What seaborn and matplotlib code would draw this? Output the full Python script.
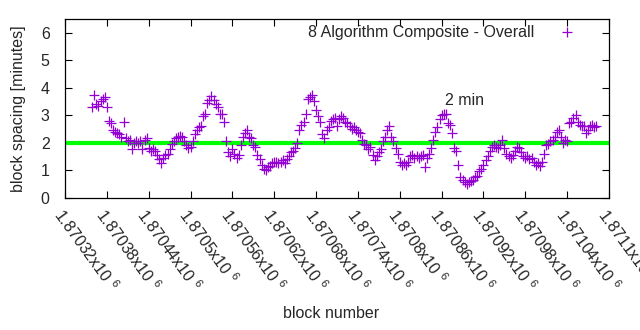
import numpy as np
import pandas as pd
import matplotlib
matplotlib.use("Agg")
import matplotlib.pyplot as plt
import matplotlib.transforms as mtransforms
import seaborn as sns

# ---- data ----
first_block = 1870359
block_step = 3
spacing_minutes = [
    3.3, 3.75, 3.4, 3.35, 3.5, 3.6, 3.65, 3.3, 2.8, 2.7,
    2.45, 2.4, 2.35, 2.3, 2.2, 2.75, 2.15, 2.05, 2.1, 1.75,
    2.0, 2.05, 2.0, 2.05, 1.75, 2.1, 2.15, 1.8, 1.7, 1.75,
    1.7, 1.55, 1.4, 1.25, 1.45, 1.55, 1.6, 1.75, 1.95, 2.05,
    2.15, 2.2, 2.25, 2.2, 2.05, 1.9, 1.8, 1.85, 2.05, 2.3,
    2.45, 2.55, 2.6, 2.95, 3.05, 3.45, 3.55, 3.7, 3.55, 3.4,
    3.3, 3.05, 3.05, 2.75, 2.05, 1.65, 1.5, 1.75, 1.6, 1.45,
    1.55, 1.9, 2.2, 2.35, 2.45, 2.2, 2.15, 1.9, 1.85, 1.55,
    1.4, 1.2, 1.05, 1.0, 1.1, 1.15, 1.25, 1.3, 1.3, 1.25,
    1.3, 1.35, 1.25, 1.4, 1.5, 1.65, 1.7, 1.8, 2.0, 2.45,
    2.65, 2.75, 3.05, 3.6, 3.65, 3.75, 3.5, 3.2, 2.95, 2.75,
    2.3, 2.15, 2.45, 2.55, 2.8, 2.85, 2.9, 2.6, 2.85, 2.95,
    2.9, 2.75, 2.7, 2.6, 2.5, 2.55, 2.45, 2.4, 2.35, 2.1,
    1.95, 1.9, 1.75, 1.85, 1.55, 1.35, 1.5, 1.65, 1.75, 2.05,
    2.2, 2.45, 2.6, 2.2, 2.05, 1.8, 1.6, 1.3, 1.2, 1.25,
    1.2, 1.3, 1.5, 1.55, 1.45, 1.5, 1.45, 1.5, 1.55, 1.1,
    1.45, 1.6, 1.8, 2.1, 2.4, 2.55, 2.85, 3.0, 3.05, 3.05,
    2.7, 2.65, 2.35, 1.8, 1.7, 1.2, 0.75, 0.65, 0.55, 0.5,
    0.55, 0.6, 0.65, 0.75, 0.8, 0.95, 1.05, 1.2, 1.35, 1.5,
    1.7, 1.85, 1.9, 1.85, 1.8, 1.9, 2.1, 1.8, 1.6, 1.5,
    1.45, 1.55, 1.7, 1.85, 1.8, 1.65, 1.5, 1.45, 1.5, 1.4,
    1.45, 1.3, 1.2, 1.25, 1.15, 1.3, 1.6, 1.9, 1.95, 2.05,
    2.1, 2.2, 2.4, 2.45, 2.2, 2.0, 2.1, 2.05, 2.7, 2.75,
    2.9, 3.0, 2.75, 2.65, 2.6, 2.6, 2.35, 2.45, 2.6, 2.65,
    2.55, 2.6,
]
blocks = first_block + block_step * np.arange(len(spacing_minutes))

x_ticks = [1870320, 1870380, 1870440, 1870500, 1870560, 1870620, 1870680,
           1870740, 1870800, 1870860, 1870920, 1870980, 1871040, 1871100]
x_tick_text = ["1.87032", "1.87038", "1.87044", "1.8705", "1.87056", "1.87062",
               "1.87068", "1.87074", "1.8708", "1.87086", "1.87092", "1.87098",
               "1.87104", "1.8711"]
y_ticks = [0, 1, 2, 3, 4, 5, 6]
target_minutes = 2
series_name = "8 Algorithm Composite - Overall"

df = pd.DataFrame({"block": blocks, "spacing": spacing_minutes})

# ---- style ----
sns.set_style("ticks")
plt.rcParams["font.family"] = ["Liberation Sans", "DejaVu Sans"]
plt.rcParams["mathtext.default"] = "regular"
FS = 11.5

fig = plt.figure(figsize=(6.4, 3.3), dpi=100)
ax = fig.add_axes([65 / 640, 1 - 197.5 / 330, (609 - 65) / 640, (197.5 - 19) / 330])

purple = "#9400d3"
sns.scatterplot(data=df, x="block", y="spacing", marker="+", s=50,
                color=purple, linewidth=0.9, ax=ax, label=series_name, zorder=3)
ax.axhline(target_minutes, color="#00ff00", lw=3.0, zorder=2)
ax.text(1870893, 3.52, "2 min", fontsize=FS, ha="center", va="center")

ax.set_xlim(1870320, 1871100)
ax.set_ylim(0, 6.5)
ax.set_yticks(y_ticks)
ax.set_xticks(x_ticks)
ax.set_xticklabels([t + r"x10 $^{6}$" for t in x_tick_text], rotation=-54,
                   ha="left", va="top", rotation_mode="anchor", fontsize=FS)
shift = mtransforms.ScaledTranslation(6 / 100, 0, fig.dpi_scale_trans)
for lbl in ax.get_xticklabels():
    lbl.set_transform(lbl.get_transform() + shift)
for lbl in ax.get_yticklabels():
    lbl.set_fontsize(FS)
ax.tick_params(axis="both", direction="in", length=5, width=0.8, color="black",
               top=True, right=True)
ax.tick_params(axis="x", pad=6)
ax.tick_params(axis="y", pad=11)
for sp in ax.spines.values():
    sp.set_color("black")
    sp.set_linewidth(0.9)

ax.set_xlabel("block number", fontsize=FS)
ax.set_ylabel("block spacing [minutes]", fontsize=FS)
ax.xaxis.set_label_coords(0.49, -0.61)
ax.yaxis.set_label_coords(-0.072, 0.5)

leg = ax.legend(loc="upper right", frameon=False, markerfirst=False,
                fontsize=FS, bbox_to_anchor=(1.0, 1.112), handletextpad=1.1,
                handlelength=2.0, borderaxespad=1.2, borderpad=0.4)

fig.savefig("out.png", dpi=100)
